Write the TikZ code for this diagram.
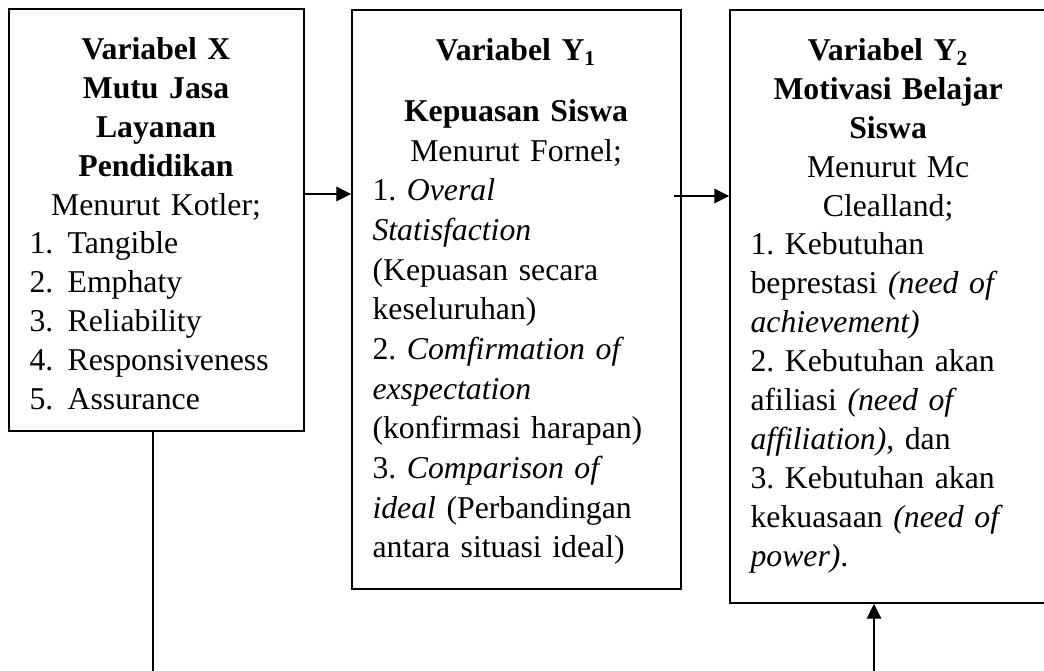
\documentclass[tikz,border=0pt]{standalone}
\usepackage{fontspec}
\setmainfont{Liberation Serif}
\usetikzlibrary{positioning,arrows.meta,calc,fit}
\frenchspacing

\begin{document}
\begin{tikzpicture}[
    x=0.378pt, y=-0.378pt,
    every node/.style={font=\fontsize{12}{14.7}\selectfont},
    varbox/.style={draw,line width=0.75pt,inner sep=0pt},
    vartext/.style={anchor=north west,inner sep=0pt,align=left},
    arrow/.style={-{Triangle[length=5.5pt,width=5.5pt]},line width=0.4pt},
]
\useasboundingbox (0,0) rectangle (1044,671);

% --- Variable boxes (the right one runs past the page edge)
\node[varbox,fit={(9,9) (304,431)}]    (varX)  {};
\node[varbox,fit={(352,10) (681,589)}] (varYa) {};
\node[varbox,fit={(730,10) (1047,603)}] (varYb) {};

% Variabel X
\node[vartext,text width=95.6pt] (varXtext) at ($(varX.north west)+(21,29)$) {%
  {\centering\textbf{Variabel X}\\ \textbf{Mutu Jasa}\\ \textbf{Layanan}\\
   \textbf{Pendidikan}\\ Menurut Kotler;\par}
  \makebox[14.4pt][l]{1.}Tangible\\
  \makebox[14.4pt][l]{2.}Emphaty\\
  \makebox[14.4pt][l]{3.}Reliability\\
  \makebox[14.4pt][l]{4.}Responsiveness\\
  \makebox[14.4pt][l]{5.}Assurance};

% Variabel Y1
\node[vartext,text width=108.5pt,font=\fontsize{12}{15}\selectfont] (varYatext)
  at ($(varYa.north west)+(21,29)$) {%
  {\centering\textbf{Variabel Y\textsubscript{1}}\\[8pt] \textbf{Kepuasan Siswa}\\
   Menurut Fornel;\par}
  1. \textit{Overal}\\ \textit{Statisfaction}\\ (Kepuasan secara\\ keseluruhan)\\
  2. \textit{Comfirmation of}\\ \textit{exspectation}\\ (konfirmasi harapan)\\
  3. \textit{Comparison of}\\ \textit{ideal} (Perbandingan\\ antara situasi ideal)};

% Variabel Y2
\node[vartext,text width=104pt] (varYbtext) at ($(varYb.north west)+(21,29)$) {%
  {\centering\textbf{Variabel Y\textsubscript{2}}\\ \textbf{Motivasi Belajar}\\
   \textbf{Siswa}\\ Menurut Mc\\ Clealland;\par}
  1. Kebutuhan\\ beprestasi \textit{(need of}\\ \textit{achievement)}\\
  2. Kebutuhan akan\\ afiliasi \textit{(need of}\\ \textit{affiliation)}, dan\\
  3. Kebutuhan akan\\ kekuasaan \textit{(need of}\\ \textit{power)}.};

% --- Connectors
\coordinate (rowA) at (0,194);
\coordinate (rowB) at (0,196);
\coordinate (startB) at ([xshift=-3pt]varYa.east);
\draw[arrow] (varX.east |- rowA) -- (varYa.west |- rowA);
\draw[arrow] (startB |- rowB) -- (varYb.west |- rowB);

% X also feeds Y2 (the bottom run is cut off by the page)
\coordinate (loopL) at (153,700);
\coordinate (loopR) at (874,700);
\draw[arrow] (varX.south -| loopL) -- (loopL) -- (loopR) -- (varYb.south -| loopR);
\end{tikzpicture}
\end{document}
